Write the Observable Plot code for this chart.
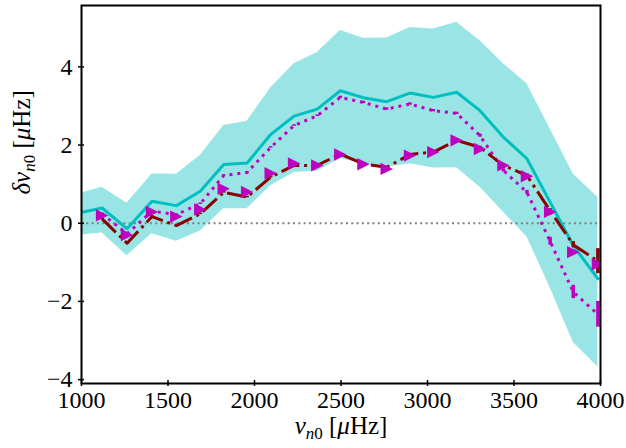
<!DOCTYPE html>
<html><head><meta charset="utf-8">
<script src="https://cdn.jsdelivr.net/npm/d3@7"></script>
<script src="https://cdn.jsdelivr.net/npm/@observablehq/plot@0.6"></script>
<style>body{margin:0;background:#fff} svg, svg text{font-family:"Liberation Serif","DejaVu Serif",serif !important;}</style>
</head><body><div id="chart"></div>
<script>
// radial order frequencies (μHz)
const nu = [972.6, 1118.9, 1263.2, 1407.5, 1548.3, 1686.6, 1822.2, 1957.4, 2093.5, 2228.8, 2362.8, 2496.2, 2629.6, 2764.2, 2899.0, 3033.8, 3168.6, 3303.5, 3439.0, 3574.9, 3708.9, 3842.5, 3985.0];
// cyan band: mean, upper, lower
const bandMean  = [0.25, 0.39, -0.14, 0.56, 0.45, 0.82, 1.50, 1.54, 2.27, 2.74, 2.92, 3.39, 3.21, 3.11, 3.33, 3.22, 3.35, 2.88, 2.20, 1.65, 0.54, -0.57, -1.42];
const bandUpper = [0.74, 0.92, 0.51, 1.26, 1.25, 1.73, 2.50, 2.61, 3.46, 4.08, 4.37, 4.93, 4.73, 4.74, 5.01, 4.97, 5.14, 4.67, 4.08, 3.57, 2.41, 1.26, 0.66];
const bandLower = [-0.31, -0.25, -0.83, -0.27, -0.46, -0.20, 0.37, 0.37, 0.96, 1.30, 1.33, 1.65, 1.52, 1.43, 1.52, 1.41, 1.42, 0.92, 0.28, -0.35, -1.65, -3.05, -3.68];
// magenta dotted series and its errors
const dottedVals = [null, 0.24, -0.27, 0.31, 0.22, 0.50, 1.22, 1.30, 1.94, 2.50, 2.75, 3.22, 3.09, 2.92, 3.05, 2.88, 2.81, 2.24, 1.35, 0.79, -0.46, -1.76, -2.33];
const dottedErr  = [null, 0.02, 0.02, 0.02, 0.02, 0.02, 0.02, 0.02, 0.02, 0.02, 0.02, 0.03, 0.03, 0.03, 0.03, 0.03, 0.03, 0.04, 0.04, 0.05, 0.10, 0.17, 0.33];
// dark red dash-dot series and its errors
const dashDotVals = [null, 0.11, -0.51, 0.17, -0.06, 0.24, 0.79, 0.67, 1.18, 1.48, 1.48, 1.77, 1.52, 1.43, 1.76, 1.82, 2.12, 1.94, 1.48, 1.22, 0.32, -0.55, -0.97];
const dashDotErr  = [null, 0.02, 0.02, 0.02, 0.02, 0.02, 0.02, 0.02, 0.02, 0.02, 0.02, 0.02, 0.02, 0.02, 0.02, 0.02, 0.03, 0.03, 0.03, 0.04, 0.05, 0.08, 0.32];
// magenta triangles
const triVals = [null, 0.20, -0.30, 0.29, 0.17, 0.35, 0.88, 0.80, 1.28, 1.53, 1.48, 1.76, 1.51, 1.39, 1.73, 1.82, 2.12, 1.90, 1.48, 1.20, 0.29, -0.74, -1.05];

const xTicks = [1000, 1500, 2000, 2500, 3000, 3500, 4000];
const yTicks = [-4, -2, 0, 2, 4];
const xLabel = "νn0 [μHz]";
const yLabel = "δνn0 [μHz]";

const rows = nu.map((x, i) => ({
  x, mean: bandMean[i], hi: bandUpper[i], lo: bandLower[i],
  dot: dottedVals[i], dotErr: dottedErr[i],
  dd: dashDotVals[i], ddErr: dashDotErr[i], tri: triVals[i]
}));
const obs = rows.filter(d => d.dot != null);

const triRight = {
  draw(ctx, size) {
    const r = Math.sqrt(size / Math.PI);
    ctx.moveTo(r, 0); ctx.lineTo(-r, -r); ctx.lineTo(-r, r); ctx.closePath();
  }
};
const fmt = d => d < 0 ? "\u2212" + Math.abs(d) : String(d);
const font = "Liberation Serif";
const cyan = "#00bfbf", mag = "#bf00bf", dred = "#8b0000";

const chart = Plot.plot({
  width: 626, height: 448,
  marginLeft: 81, marginRight: 26, marginTop: 5, marginBottom: 65,
  style: {fontFamily: font, fontSize: "25px", background: "white", color: "black"},
  x: {domain: [1000, 4000]},
  y: {domain: [-4.10, 5.57]},
  marks: [
    Plot.areaY(rows, {x: "x", y1: "lo", y2: "hi", fill: cyan, fillOpacity: 0.4, clip: true}),
    Plot.ruleY([0], {stroke: "#808080", strokeWidth: 2, strokeDasharray: "2,3.3"}),
    Plot.line(rows, {x: "x", y: "mean", stroke: cyan, strokeWidth: 3, clip: true}),
    Plot.line(obs, {x: "x", y: "dot", stroke: mag, strokeWidth: 3, strokeDasharray: "3,4.95", strokeLinecap: "butt", clip: true}),
    Plot.line(obs, {x: "x", y: "dd", stroke: dred, strokeWidth: 3, strokeDasharray: "19.2,4.8,3,4.8", strokeLinecap: "butt", clip: true}),
    Plot.ruleX(obs, {x: "x", y1: d => d.dd - d.ddErr, y2: d => d.dd + d.ddErr, stroke: dred, strokeWidth: 3.5, clip: true}),
    Plot.ruleX(obs, {x: "x", y1: d => d.dot - d.dotErr, y2: d => d.dot + d.dotErr, stroke: mag, strokeWidth: 3.5, clip: true}),
    Plot.dot(obs, {x: "x", y: "tri", symbol: triRight, r: 6.2, fill: mag, stroke: "none", clip: true}),
    Plot.frame({stroke: "black", strokeWidth: 2}),
    Plot.axisX({ticks: xTicks, tickSize: 6, dy: -3, tickFormat: () => "", label: null, strokeWidth: 1.5}),
    Plot.axisX({ticks: xTicks, tickSize: 0, tickPadding: 7, tickFormat: fmt, label: null, fontFamily: font, fontSize: 24}),
    Plot.axisY({ticks: yTicks, tickSize: 6, dx: 3, tickFormat: () => "", label: null, strokeWidth: 1.5}),
    Plot.axisY({ticks: yTicks, tickSize: 0, tickPadding: 9, tickFormat: fmt, label: null, fontFamily: font, fontSize: 24}),
    Plot.text([xLabel], {frameAnchor: "bottom", dy: 50, text: d => d, fontSize: 25, fontFamily: font}),
    Plot.text([yLabel], {frameAnchor: "left", dx: -60, rotate: -90, text: d => d, fontSize: 25, fontFamily: font})
  ]
});
document.getElementById("chart").appendChild(chart);

// typeset the axis labels with italics and subscripts
function typeset(prefix) {
  const t = d3.select(chart).selectAll("text").filter(function() { return this.textContent === prefix + "νn0 [μHz]"; });
  t.each(function() {
    const s = d3.select(this);
    s.text(null);
    if (prefix) s.append("tspan").text(prefix).attr("font-style", "italic");
    s.append("tspan").text("ν").attr("font-style", "italic");
    s.append("tspan").text("n").attr("font-style", "italic").attr("font-size", "17px").attr("dy", "5");
    s.append("tspan").text("0").attr("font-size", "17px");
    s.append("tspan").text(" [").attr("dy", "-5");
    s.append("tspan").text("μ").attr("font-style", "italic");
    s.append("tspan").text("Hz]");
  });
}
typeset("");
typeset("δ");
</script>
</body></html>
